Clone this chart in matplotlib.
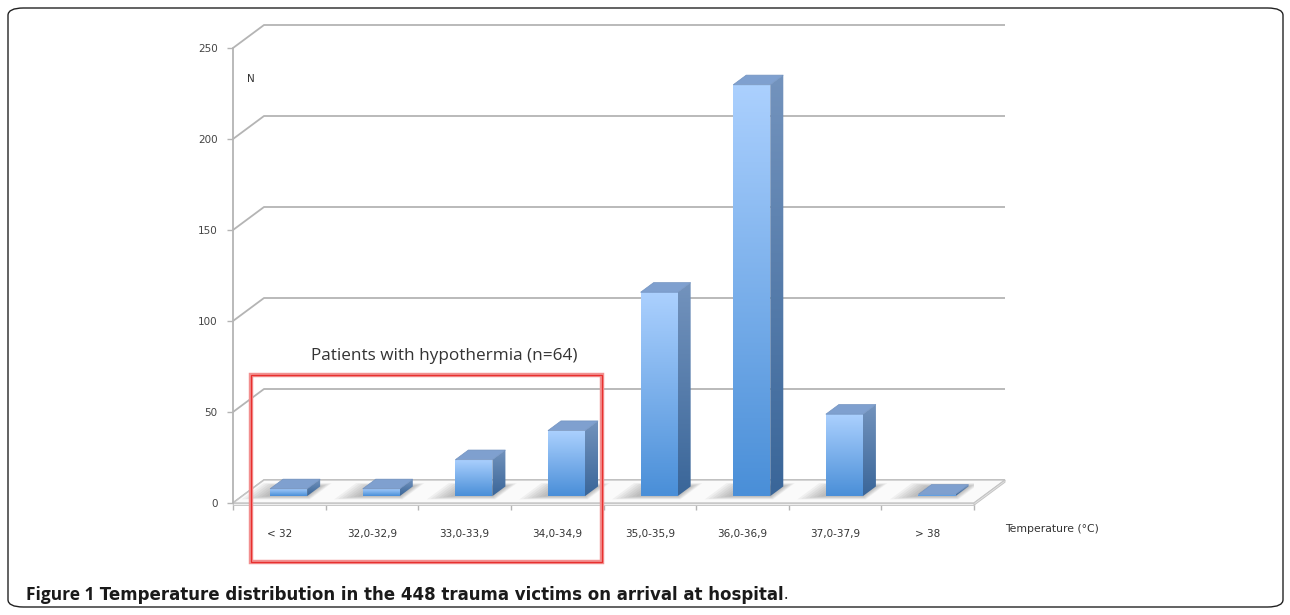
import numpy as np
import matplotlib
matplotlib.use("Agg")
import matplotlib.pyplot as plt
from matplotlib.patches import Polygon, Rectangle, FancyBboxPatch
from matplotlib.colors import to_rgb

# ---------------- data ----------------
categories = ["< 32", "32,0-32,9", "33,0-33,9", "34,0-34,9",
              "35,0-35,9", "36,0-36,9", "37,0-37,9", "> 38"]
counts = [4, 4, 20, 36, 112, 226, 45, 1]
y_ticks = [0, 50, 100, 150, 200, 250]
y_label = "N"
x_label = "Temperature (°C)"
box_label = "Patients with hypothermia (n=64)"
caption_head = "Figure 1"
caption_body = " Temperature distribution in the 448 trauma victims on arrival at hospital"

# ---------------- layout ----------------
W, H = 1290, 615
fig = plt.figure(figsize=(W / 100, H / 100), dpi=100)
fig.patch.set_facecolor("white")

ax_l, ax_r, ax_b, ax_t = 233, 974, 503, 48   # pixel frame of the front plane
ax = fig.add_axes([ax_l / W, 1 - ax_b / H, (ax_r - ax_l) / W, (ax_b - ax_t) / H])
ax.set_facecolor("none")
n = len(categories)
YMAX = 250
px_x = (ax_r - ax_l) / n
px_y = (ax_b - ax_t) / YMAX
DX = 31 / px_x          # depth offset of back wall in x data units
DY = 23 / px_y          # depth offset in y data units


def P(x, y, z):
    return (x + z * DX, y + z * DY)


grid_c = "#b4b4b4"
for v in y_ticks:
    ax.plot([0, DX, n + DX], [v, v + DY, v + DY], color=grid_c, lw=1.3,
            clip_on=False, zorder=1, solid_capstyle="butt")

# floor (thin slab)
ax.add_patch(Polygon([P(0, 0, 0), P(n, 0, 0), P(n, 0, 1), P(0, 0, 1)],
                     closed=True, facecolor="#fafafa", edgecolor="#c4c4c4",
                     lw=1.0, zorder=2, clip_on=False))
thick = 1.2
ax.add_patch(Polygon([(0, 0), (n, 0), (n, -thick), (0, -thick)], closed=True,
                     facecolor="#eeeeee", edgecolor="#c8c8c8", lw=0.7,
                     zorder=2, clip_on=False))
ax.add_patch(Polygon([P(n, 0, 0), P(n, 0, 1), P(n, -thick, 1), P(n, -thick, 0)],
                     closed=True, facecolor="#e6e6e6", edgecolor="#c4c4c4",
                     lw=0.7, zorder=2, clip_on=False))

# bars
bw = 0.40
z0, z1 = 0.30, 0.72
front_top, front_bot = np.array(to_rgb("#abd0fe")), np.array(to_rgb("#4a8fd8"))
side_top, side_bot = np.array(to_rgb("#7393bd")), np.array(to_rgb("#3a6699"))
top_col = "#7fa0cf"


def grad(c_top, c_bot, m=64):
    t = np.linspace(0, 1, m)[:, None]
    return (c_top[None, :] * (1 - t) + c_bot[None, :] * t)[:, None, :]


for i, v in enumerate(counts):
    xc = i + 0.5
    xl, xr = xc - bw / 2, xc + bw / 2
    # soft shadow on floor (stronger to the left)
    for k in range(7):
        ml = 0.01 + k * 0.035
        mr = 0.005 + k * 0.012
        mz = 0.01 + k * 0.022
        za, zb = max(z0 - mz, 0.06), min(z1 + mz, 0.94)
        ax.add_patch(Polygon([P(xl - 0.04 - ml, 0, za), P(xr + mr, 0, za),
                              P(xr + mr, 0, zb), P(xl - 0.04 - ml, 0, zb)],
                             closed=True, facecolor="#6a6a6a", edgecolor="none",
                             alpha=0.075, zorder=3))
    # front face
    fx0, fy0 = P(xl, 0, z0)
    fx1, fy1 = P(xr, v, z0)
    front = Polygon([(fx0, fy0), (fx1, fy0), (fx1, fy1), (fx0, fy1)],
                    closed=True, facecolor="none", edgecolor="none", zorder=4)
    ax.add_patch(front)
    im = ax.imshow(grad(front_top, front_bot), extent=[fx0, fx1, fy0, fy1],
                   aspect="auto", zorder=4, interpolation="bilinear")
    im.set_clip_path(front)
    # side face
    side_pts = [P(xr, 0, z0), P(xr, 0, z1), P(xr, v, z1), P(xr, v, z0)]
    side = Polygon(side_pts, closed=True, facecolor="none", edgecolor="none",
                   zorder=4)
    ax.add_patch(side)
    im2 = ax.imshow(grad(side_top, side_bot),
                    extent=[side_pts[0][0], side_pts[1][0],
                            side_pts[0][1], side_pts[2][1]],
                    aspect="auto", zorder=4, interpolation="bilinear")
    im2.set_clip_path(side)
    # top face
    ax.add_patch(Polygon([P(xl, v, z0), P(xr, v, z0), P(xr, v, z1), P(xl, v, z1)],
                         closed=True, facecolor=top_col, edgecolor="#7393c0",
                         lw=0.5, zorder=5))

ax.set_xlim(0, n)
ax.set_ylim(0, YMAX)

# axes styling
for s in ["top", "right", "bottom"]:
    ax.spines[s].set_visible(False)
ax.spines["left"].set_color(grid_c)
ax.spines["left"].set_linewidth(1.3)
ax.set_yticks(y_ticks)
ax.set_yticklabels([str(t) for t in y_ticks])
ax.tick_params(axis="y", length=4, width=1.0, color=grid_c, pad=7,
               labelsize=7.5, labelcolor="#444444")
ax.set_xticks(np.arange(0, n + 1))
ax.set_xticklabels([])
ax.set_xticks(np.arange(n) + 0.5, minor=True)
ax.set_xticklabels(categories, minor=True)
ax.tick_params(axis="x", which="major", length=5, width=1.0, color=grid_c,
               direction="out")
ax.tick_params(axis="x", which="minor", length=0, pad=19, labelsize=7.5,
               labelcolor="#333333")
for t in ax.xaxis.get_majorticklines():
    t.set_clip_on(False)

ax.text(0.15, 233, y_label, fontsize=7.5, color="#333333", ha="left",
        va="center")
ax.text(n + 0.34, -14.3, x_label, fontsize=7.8, color="#333333", ha="left",
        va="center", clip_on=False)

# hypothermia box
box_x0, box_x1 = 0.19, 3.985
box_y0, box_y1 = -32.4, 70.3
ax.add_patch(Rectangle((box_x0, box_y0), box_x1 - box_x0, box_y1 - box_y0,
                       fill=False, edgecolor="#f29090", lw=3.2, zorder=6,
                       clip_on=False))
ax.add_patch(Rectangle((box_x0, box_y0), box_x1 - box_x0, box_y1 - box_y0,
                       fill=False, edgecolor="#e8302e", lw=0.9, zorder=7,
                       clip_on=False))
ax.text((box_x0 + box_x1) / 2 + 0.19, 81, box_label, fontsize=12.3,
        family="Open Sans", color="#333333", ha="center", va="center")

# figure border and caption
fig.patches.append(FancyBboxPatch((8 / W, 8 / H), (1283 - 8) / W, (607 - 8) / H,
                                  boxstyle="round,pad=0,rounding_size=0.012",
                                  transform=fig.transFigure, fill=False,
                                  edgecolor="#222222", lw=1.0))
cap_y = 1 - 595 / H
head = fig.text(26 / W, cap_y, caption_head, fontsize=12.5, family="Open Sans",
                weight="bold", color="#1a1a1a", ha="left", va="center")
fig.canvas.draw()
hb = head.get_window_extent()
body = fig.text(hb.x1 / W, cap_y, caption_body, fontsize=12.5,
                family="Liberation Sans Narrow", weight="bold",
                color="#1a1a1a", ha="left", va="center")
fig.canvas.draw()
bb = body.get_window_extent()
target = 786
if bb.x1 > 0:
    body.set_fontsize(12.5 * (target - hb.x1) / (bb.x1 - hb.x1))
fig.canvas.draw()
bb = body.get_window_extent()
fig.text(bb.x1 / W, cap_y, ".", fontsize=12, family="Open Sans",
         color="#1a1a1a", ha="left", va="center")

fig.savefig("out.png", dpi=100)
